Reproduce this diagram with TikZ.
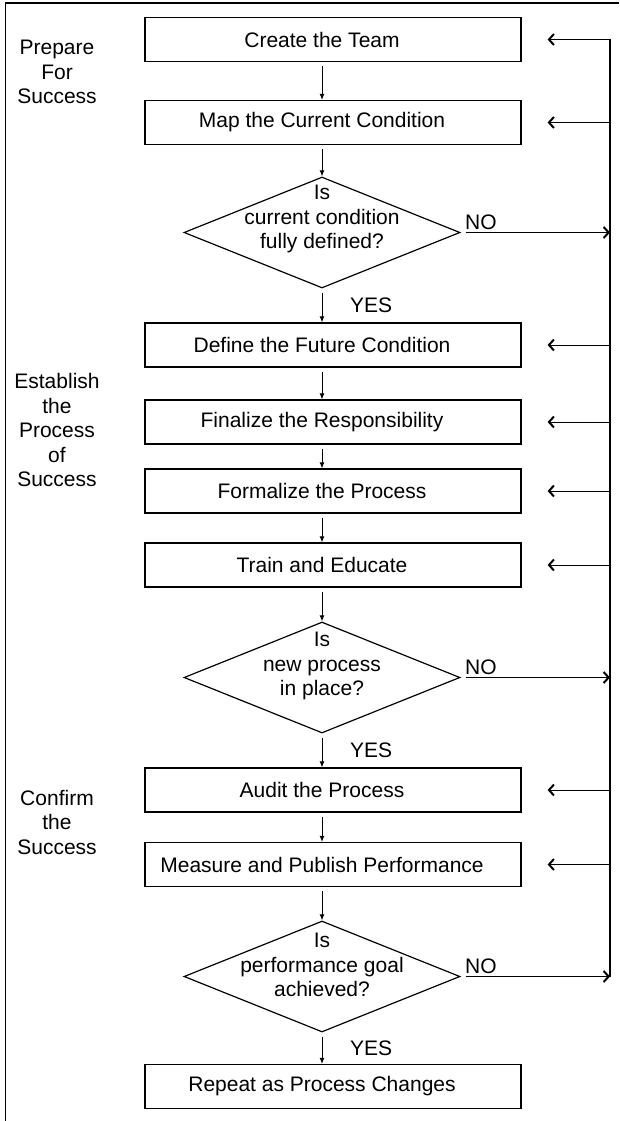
\documentclass[tikz,border=0pt]{standalone}
\usepackage{fontspec}
\setmainfont{Liberation Sans}
\usetikzlibrary{shapes.geometric,arrows.meta}
\begin{document}
\begin{tikzpicture}[x=1pt,y=-1pt,
  font=\fontsize{21}{24.5}\selectfont,
  box/.style={draw, line width=1.2pt, minimum width=376pt, minimum height=44pt, inner sep=0pt},
  dec/.style={draw, diamond, line width=1.2pt, minimum width=276pt, minimum height=111pt, inner sep=0pt},
  qtext/.style={align=center, inner sep=0pt},
  sect/.style={align=center, inner sep=0pt},
  lbl/.style={inner sep=0pt},
  down/.style={-{Latex[length=6pt,width=5pt]}, line width=1pt, shorten <=4pt},
  back/.style={-{Straight Barb[length=5pt,width=11pt,line width=2pt]}, line width=1pt},
  rail/.style={line width=1.1pt}]
\useasboundingbox (0,0) rectangle (619,1121);
% frame
\draw[line width=1.6pt] (5.5,1121) -- (5.5,3) -- (619,3);
% axis and rail references
\coordinate (axis) at (322,0);
\coordinate (railx) at (610,0);
% boxes (text centred on the arrow axis)
\node[box] (create) at (333,39.5) {\hspace*{-22pt}Create the Team};
\node[box] (map) at (333,122.5) {\hspace*{-22pt}Map the Current Condition};
\node[dec] (d1) at (322,232.5) {};
\node[qtext] (t1) at (322,219) {Is\\current condition\\fully defined?};
\node[box] (define) at (333,345) {\hspace*{-22pt}Define the Future Condition};
\node[box] (final) at (333,422) {\hspace*{-22pt}Finalize the Responsibility};
\node[box] (formal) at (333,491) {\hspace*{-22pt}Formalize the Process};
\node[box] (train) at (333,565) {\hspace*{-22pt}Train and Educate};
\node[dec] (d2) at (322,677.5) {};
\node[qtext] (t2) at (322,666) {Is\\new process\\in place?};
\node[box] (audit) at (333,790) {\hspace*{-22pt}Audit the Process};
\node[box] (measure) at (333,864.5) {\hspace*{-22pt}Measure and Publish Performance};
\node[dec] (d3) at (322,976.5) {};
\node[qtext] (t3) at (322,965) {Is\\performance goal\\achieved?};
\node[box] (repeat) at (333,1086.5) {\hspace*{-22pt}Repeat as Process Changes};
% section labels
\node[sect] (s1) at (57,72) {Prepare\\For\\Success};
\node[sect] (s2) at (57,430) {Establish\\the\\Process\\of\\Success};
\node[sect] (s3) at (57,822) {Confirm\\the\\Success};
% YES / NO labels
\node[lbl, anchor=west] (y1) at (350,305.5) {YES};
\node[lbl, anchor=west] (y2) at (350,750) {YES};
\node[lbl, anchor=west] (y3) at (350,1048.5) {YES};
\node[lbl, anchor=south west] (n1) at (465,229.5) {NO};
\node[lbl, anchor=south west] (n2) at (465,674.5) {NO};
\node[lbl, anchor=south west] (n3) at (465,973.5) {NO};
% main flow
\draw[down] (create.south -| axis) -- (map.north -| axis);
\draw[down] (map.south -| axis) -- (d1.north);
\draw[down] (d1.south) -- (define.north -| axis);
\draw[down] (define.south -| axis) -- (final.north -| axis);
\draw[down] (final.south -| axis) -- (formal.north -| axis);
\draw[down] (formal.south -| axis) -- (train.north -| axis);
\draw[down] (train.south -| axis) -- (d2.north);
\draw[down] (d2.south) -- (audit.north -| axis);
\draw[down] (audit.south -| axis) -- (measure.north -| axis);
\draw[down] (measure.south -| axis) -- (d3.north);
\draw[down] (d3.south) -- (repeat.north -| axis);
% feedback rail
\draw[rail] (create.east -| railx) -- (d3.east -| railx);
\foreach \b in {create,map,define,final,formal,train,audit,measure}
  \draw[back] (\b.east -| railx) -- ([xshift=26pt]\b.east);
\foreach \d in {d1,d2,d3}
  \draw[back] ([xshift=5pt]\d.east) -- (\d.east -| railx);
\end{tikzpicture}
\end{document}
